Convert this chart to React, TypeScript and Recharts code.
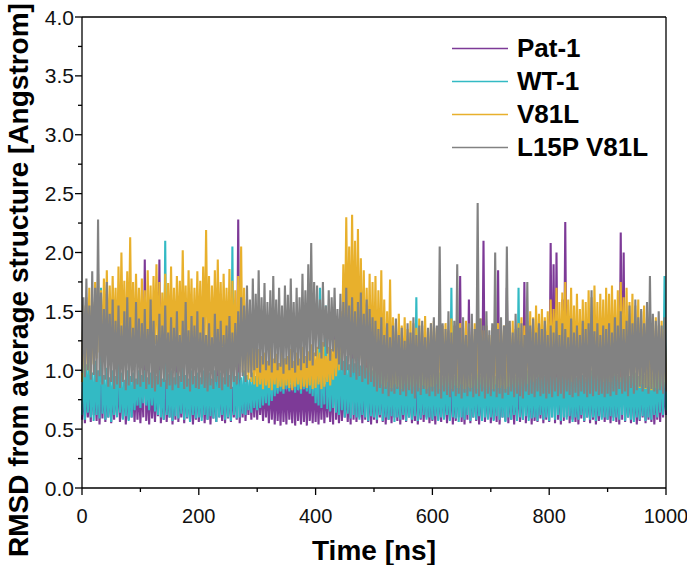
import { LineChart, Line, XAxis, YAxis, Legend, ReferenceLine } from "recharts";

// RMSD read every 5 ns: trough values at t = 0,5,...,1000 and peak values at t = 2.5,7.5,...,997.5
const STEP = 5;

const patLo = [
  0.58, 0.55, 0.6, 0.56, 0.62, 0.57, 0.54, 0.59, 0.56, 0.6, 0.55, 0.58, 0.62, 0.56, 0.59, 0.54, 0.58, 0.6, 0.56, 0.58,
  0.55, 0.6, 0.57, 0.54, 0.59, 0.56, 0.61, 0.55, 0.58, 0.56, 0.6, 0.54, 0.58, 0.56, 0.6, 0.55, 0.59, 0.57, 0.54, 0.58,
  0.56, 0.6, 0.55, 0.58, 0.54, 0.59, 0.56, 0.6, 0.57, 0.55, 0.59, 0.56, 0.6, 0.58, 0.55, 0.6, 0.57, 0.62, 0.58, 0.6,
  0.58, 0.62, 0.57, 0.6, 0.55, 0.58, 0.54, 0.57, 0.53, 0.56, 0.54, 0.58, 0.55, 0.53, 0.57, 0.54, 0.56, 0.53, 0.57, 0.55,
  0.56, 0.54, 0.58, 0.55, 0.6, 0.56, 0.54, 0.58, 0.55, 0.57, 0.6, 0.56, 0.54, 0.58, 0.56, 0.6, 0.55, 0.58, 0.56, 0.54,
  0.58, 0.55, 0.6, 0.56, 0.54, 0.58, 0.55, 0.6, 0.57, 0.54, 0.58, 0.56, 0.6, 0.55, 0.57, 0.54, 0.58, 0.56, 0.6, 0.55,
  0.57, 0.54, 0.58, 0.56, 0.6, 0.55, 0.58, 0.54, 0.57, 0.6, 0.56, 0.54, 0.58, 0.55, 0.6, 0.57, 0.54, 0.58, 0.56, 0.6,
  0.55, 0.58, 0.56, 0.54, 0.6, 0.57, 0.55, 0.58, 0.54, 0.6, 0.56, 0.58, 0.55, 0.6, 0.54, 0.57, 0.56, 0.59, 0.55, 0.58,
  0.56, 0.6, 0.55, 0.58, 0.54, 0.57, 0.6, 0.55, 0.58, 0.56, 0.54, 0.59, 0.56, 0.6, 0.55, 0.58, 0.54, 0.57, 0.6, 0.56,
  0.58, 0.55, 0.6, 0.56, 0.54, 0.58, 0.56, 0.6, 0.55, 0.58, 0.54, 0.57, 0.6, 0.55, 0.58, 0.56, 0.54, 0.58, 0.56, 0.6,
  0.62,
];
const patHi = [
  0.88, 0.92, 0.86, 0.9, 0.84, 0.93, 0.88, 0.9, 0.85, 0.92, 0.87, 0.9, 0.94, 0.86, 0.9, 0.88, 0.92, 0.86, 0.9, 0.88,
  0.9, 1.94, 0.88, 0.92, 0.86, 0.9, 1.94, 0.88, 0.92, 0.86, 0.9, 0.88, 1.6, 0.86, 0.9, 0.92, 0.87, 0.9, 0.85, 0.9,
  0.88, 0.92, 0.86, 0.9, 0.88, 0.85, 1.7, 0.9, 0.87, 0.92, 0.88, 0.86, 0.9, 2.28, 0.88, 0.92, 0.86, 0.9, 0.88, 0.92,
  0.9, 0.86, 0.92, 0.88, 0.95, 0.9, 0.93, 0.88, 0.96, 0.9, 0.94, 0.88, 0.95, 0.92, 0.9, 0.96, 0.92, 0.94, 0.9, 0.95,
  0.92, 0.9, 0.95, 0.88, 0.92, 0.9, 1.5, 0.88, 0.92, 0.86, 0.9, 0.88, 1.8, 0.9, 0.86, 0.92, 0.88, 1.55, 0.9, 0.88,
  0.9, 0.86, 0.92, 0.88, 0.85, 0.9, 0.87, 0.92, 0.86, 0.9, 0.88, 0.85, 0.9, 0.87, 0.92, 0.86, 0.9, 0.88, 0.85, 0.9,
  0.88, 0.92, 0.86, 0.9, 0.88, 0.85, 0.9, 0.88, 0.92, 1.8, 0.87, 0.9, 1.6, 0.88, 0.92, 0.86, 0.9, 2.1, 0.88, 0.9,
  0.86, 0.9, 1.85, 0.88, 0.92, 1.7, 0.87, 0.9, 0.86, 0.92, 0.88, 1.75, 0.9, 0.86, 0.92, 0.88, 0.9, 0.85, 0.9, 0.88,
  2.08, 1.9, 2.0, 0.9, 1.6, 2.26, 1.3, 0.88, 0.92, 0.86, 0.9, 0.88, 0.92, 0.86, 0.9, 0.88, 0.85, 0.9, 0.88, 0.92,
  0.88, 0.9, 0.86, 0.92, 2.17, 2.0, 0.9, 0.88, 0.92, 0.86, 0.9, 0.88, 0.85, 0.9, 0.88, 0.92, 0.86, 0.9, 0.88, 0.9,
];

const wtLo = [
  0.62, 0.58, 0.64, 0.6, 0.57, 0.62, 0.59, 0.63, 0.58, 0.6, 0.56, 0.62, 0.6, 0.64, 0.58, 0.61, 0.57, 0.6, 0.66, 0.7,
  0.68, 0.72, 0.7, 0.66, 0.7, 0.65, 0.62, 0.6, 0.58, 0.62, 0.6, 0.57, 0.61, 0.59, 0.63, 0.58, 0.6, 0.56, 0.62, 0.59,
  0.6, 0.57, 0.62, 0.58, 0.61, 0.59, 0.56, 0.6, 0.62, 0.58, 0.6, 0.57, 0.62, 0.59, 0.6, 0.63, 0.62, 0.66, 0.64, 0.68,
  0.66, 0.68, 0.7, 0.72, 0.7, 0.74, 0.78, 0.8, 0.82, 0.8, 0.84, 0.82, 0.85, 0.81, 0.83, 0.8, 0.84, 0.82, 0.8, 0.78,
  0.72, 0.7, 0.68, 0.71, 0.67, 0.65, 0.68, 0.64, 0.62, 0.66, 0.6, 0.63, 0.59, 0.62, 0.6, 0.58, 0.62, 0.6, 0.57, 0.61,
  0.6, 0.58, 0.62, 0.57, 0.6, 0.58, 0.61, 0.56, 0.6, 0.58, 0.62, 0.57, 0.6, 0.58, 0.61, 0.57, 0.59, 0.62, 0.58, 0.6,
  0.58, 0.61, 0.57, 0.6, 0.58, 0.62, 0.57, 0.6, 0.59, 0.56, 0.6, 0.58, 0.62, 0.57, 0.6, 0.58, 0.61, 0.57, 0.6, 0.58,
  0.6, 0.57, 0.61, 0.58, 0.6, 0.56, 0.6, 0.58, 0.62, 0.57, 0.6, 0.58, 0.61, 0.57, 0.59, 0.6, 0.57, 0.62, 0.58, 0.6,
  0.57, 0.6, 0.58, 0.62, 0.57, 0.6, 0.58, 0.61, 0.56, 0.6, 0.58, 0.62, 0.57, 0.6, 0.58, 0.6, 0.57, 0.61, 0.58, 0.6,
  0.58, 0.61, 0.57, 0.6, 0.58, 0.62, 0.57, 0.6, 0.58, 0.56, 0.6, 0.58, 0.61, 0.57, 0.6, 0.58, 0.62, 0.6, 0.64, 0.62,
  0.66,
];
const wtHi = [
  1.1, 1.05, 1.12, 0.98, 1.08, 1.0, 1.7, 0.96, 1.02, 0.94, 1.0, 0.95, 1.45, 0.98, 0.92, 1.0, 0.95, 0.98, 0.93, 1.0,
  0.96, 1.0, 0.94, 0.98, 1.02, 0.95, 1.0, 0.93, 2.1, 0.97, 1.0, 0.94, 0.98, 0.95, 1.02, 0.96, 0.93, 1.0, 0.95, 0.98,
  0.94, 1.0, 0.96, 0.98, 0.93, 1.0, 0.95, 0.98, 0.94, 1.02, 0.96, 2.05, 0.95, 0.98, 0.94, 1.0, 0.96, 0.93, 0.98, 0.95,
  1.0, 1.04, 0.98, 1.06, 1.02, 1.08, 1.0, 1.05, 1.03, 1.1, 1.02, 1.06, 1.0, 1.08, 1.04, 1.1, 1.05, 1.12, 1.06, 1.1,
  1.05, 1.7, 1.1, 1.55, 1.08, 1.12, 1.05, 1.1, 1.15, 1.08, 1.12, 1.05, 1.1, 1.06, 1.12, 1.04, 1.08, 1.02, 1.06, 1.0,
  1.02, 0.98, 1.04, 0.97, 1.0, 0.95, 1.02, 0.98, 0.94, 1.0, 0.96, 1.02, 0.95, 0.98, 1.62, 0.96, 1.0, 0.94, 0.98, 0.95,
  1.0, 0.96, 0.98, 0.94, 1.02, 0.97, 1.7, 0.95, 1.0, 0.96, 0.98, 0.93, 1.0, 0.95, 0.98, 1.02, 0.96, 0.94, 1.0, 0.97,
  0.98, 0.95, 1.0, 0.96, 0.94, 1.02, 0.97, 1.0, 0.95, 1.7, 0.98, 0.94, 1.0, 0.96, 0.98, 0.93, 1.0, 0.97, 0.95, 1.0,
  0.96, 0.98, 0.94, 1.0, 0.97, 0.95, 1.02, 0.96, 0.98, 0.94, 1.0, 0.96, 0.93, 0.98, 1.0, 0.95, 0.97, 0.94, 1.0, 0.96,
  0.98, 0.95, 1.0, 0.96, 0.94, 1.0, 0.97, 0.95, 1.02, 0.98, 0.95, 1.0, 0.96, 0.98, 1.02, 0.97, 1.0, 1.04, 1.1, 1.8,
];

const v81Lo = [
  0.9, 0.95, 1.0, 0.96, 1.05, 1.1, 1.15, 1.08, 1.2, 1.12, 1.18, 1.22, 1.1, 1.16, 1.2, 1.12, 1.18, 1.1, 1.15, 1.2,
  1.14, 1.2, 1.1, 1.18, 1.12, 1.22, 1.15, 1.1, 1.2, 1.14, 1.18, 1.1, 1.16, 1.22, 1.12, 1.18, 1.14, 1.2, 1.1, 1.16,
  1.18, 1.12, 1.2, 1.15, 1.1, 1.18, 1.12, 1.16, 1.08, 1.14, 1.1, 1.05, 1.12, 1.0, 1.06, 0.98, 0.95, 0.92, 0.9, 0.88,
  0.86, 0.88, 0.84, 0.87, 0.85, 0.83, 0.88, 0.85, 0.86, 0.84, 0.87, 0.85, 0.83, 0.86, 0.88, 0.84, 0.86, 0.85, 0.87, 0.84,
  0.85, 0.88, 0.84, 0.86, 0.9, 0.87, 0.92, 0.95, 1.0, 1.1, 1.2, 1.25, 1.18, 1.22, 1.15, 1.1, 1.05, 1.0, 0.98, 0.95,
  0.94, 0.9, 0.92, 0.88, 0.86, 0.9, 0.85, 0.88, 0.86, 0.84, 0.88, 0.85, 0.87, 0.84, 0.86, 0.88, 0.85, 0.87, 0.84, 0.86,
  0.86, 0.88, 0.84, 0.87, 0.85, 0.88, 0.86, 0.84, 0.87, 0.85, 0.88, 0.84, 0.86, 0.85, 0.87, 0.84, 0.88, 0.85, 0.86, 0.84,
  0.86, 0.84, 0.88, 0.85, 0.87, 0.84, 0.86, 0.88, 0.85, 0.87, 0.88, 0.86, 0.9, 0.88, 0.92, 0.9, 0.94, 0.92, 0.95, 0.93,
  0.95, 0.92, 0.96, 0.9, 0.94, 0.97, 0.92, 0.95, 0.9, 0.94, 0.92, 0.96, 0.9, 0.93, 0.95, 0.91, 0.94, 0.92, 0.96, 0.9,
  0.93, 0.9, 0.95, 0.92, 0.9, 0.94, 0.91, 0.88, 0.92, 0.89, 0.87, 0.85, 0.88, 0.84, 0.86, 0.83, 0.85, 0.84, 0.86, 0.85,
  0.88,
];
const v81Hi = [
  1.55, 1.62, 1.7, 1.58, 1.75, 1.82, 1.68, 1.78, 1.85, 1.72, 1.8, 1.7, 1.88, 2.0, 1.76, 1.84, 2.13, 1.75, 1.82, 1.7,
  1.78, 1.68, 1.85, 1.72, 1.8, 1.9, 1.75, 1.66, 1.82, 1.74, 1.88, 1.7, 1.8, 1.76, 2.02, 1.72, 1.85, 1.78, 1.7, 1.84,
  1.76, 1.88, 2.19, 1.8, 1.72, 1.85, 1.94, 1.75, 1.82, 1.7, 1.86, 1.76, 1.68, 1.8, 2.05, 1.7, 1.6, 1.52, 1.45, 1.35,
  1.18, 1.12, 1.15, 1.08, 1.2, 1.1, 1.14, 1.06, 1.16, 1.1, 1.12, 1.18, 1.08, 1.15, 1.1, 1.2, 1.12, 1.16, 1.22, 1.15,
  1.2, 1.15, 1.24, 1.12, 1.2, 1.18, 1.26, 1.3, 1.5, 1.9, 2.3, 2.05, 2.32, 2.1, 2.2, 1.95, 1.85, 1.7, 1.82, 1.75,
  1.8, 1.68, 1.85, 1.6, 1.5, 1.77, 1.45, 1.4, 1.48, 1.38, 1.45, 1.35, 1.42, 1.4, 1.36, 1.44, 1.38, 1.46, 1.35, 1.4,
  1.42, 1.36, 1.45, 1.38, 1.4, 1.34, 1.44, 1.38, 1.32, 1.4, 1.36, 1.42, 1.35, 1.3, 1.4, 1.36, 1.44, 1.34, 1.38, 1.3,
  1.36, 1.3, 1.4, 1.34, 1.38, 1.32, 1.36, 1.42, 1.35, 1.4, 1.45, 1.38, 1.42, 1.5, 1.45, 1.55, 1.48, 1.52, 1.45, 1.5,
  1.6, 1.52, 1.7, 1.58, 1.66, 1.75, 1.6, 1.7, 1.55, 1.65, 1.52, 1.6, 1.58, 1.68, 1.62, 1.72, 1.58, 1.65, 1.6, 1.7,
  1.65, 1.72, 1.6, 1.68, 1.75, 1.62, 1.7, 1.58, 1.65, 1.55, 1.6, 1.5, 1.55, 1.45, 1.5, 1.4, 1.45, 1.38, 1.42, 1.35,
];

const l15Lo = [
  0.98, 0.94, 1.0, 0.92, 0.96, 0.9, 0.95, 0.88, 0.92, 0.86, 0.9, 0.84, 0.88, 0.85, 0.9, 0.83, 0.87, 0.9, 0.84, 0.88,
  0.86, 0.9, 0.84, 0.88, 0.85, 0.82, 0.88, 0.86, 0.9, 0.84, 0.87, 0.83, 0.88, 0.85, 0.9, 0.84, 0.86, 0.82, 0.88, 0.85,
  0.84, 0.88, 0.85, 0.82, 0.87, 0.84, 0.9, 0.85, 0.83, 0.88, 0.86, 0.84, 0.9, 0.88, 0.92, 0.95, 0.9, 0.98, 0.94, 1.0,
  1.02, 0.98, 1.05, 1.0, 1.04, 0.98, 1.06, 1.0, 1.03, 0.97, 1.05, 1.0, 1.02, 0.98, 1.04, 1.0, 1.06, 1.02, 1.08, 1.04,
  1.12, 1.18, 1.1, 1.2, 1.14, 1.08, 1.16, 1.1, 1.05, 1.0, 0.96, 1.0, 0.94, 0.98, 0.92, 0.95, 0.9, 0.93, 0.88, 0.9,
  0.86, 0.82, 0.85, 0.8, 0.84, 0.78, 0.82, 0.8, 0.84, 0.79, 0.82, 0.78, 0.83, 0.8, 0.76, 0.82, 0.79, 0.84, 0.8, 0.78,
  0.82, 0.78, 0.8, 0.76, 0.82, 0.79, 0.77, 0.82, 0.78, 0.8, 0.76, 0.81, 0.78, 0.82, 0.77, 0.8, 0.78, 0.82, 0.76, 0.8,
  0.78, 0.82, 0.77, 0.8, 0.76, 0.81, 0.79, 0.82, 0.77, 0.8, 0.78, 0.76, 0.82, 0.79, 0.8, 0.77, 0.82, 0.78, 0.8, 0.76,
  0.8, 0.77, 0.82, 0.78, 0.8, 0.76, 0.82, 0.79, 0.77, 0.81, 0.78, 0.82, 0.8, 0.77, 0.8, 0.78, 0.82, 0.79, 0.8, 0.77,
  0.8, 0.78, 0.82, 0.79, 0.84, 0.8, 0.82, 0.78, 0.85, 0.8, 0.83, 0.86, 0.82, 0.85, 0.8, 0.84, 0.82, 0.8, 0.83, 0.8,
  0.82,
];
const l15Hi = [
  1.62, 1.78, 1.55, 1.84, 1.7, 2.28, 1.66, 1.52, 1.75, 1.48, 1.6, 1.42, 1.55, 1.38, 1.5, 1.62, 1.45, 1.36, 1.58, 1.44,
  1.4, 1.52, 1.35, 1.6, 1.42, 1.3, 1.48, 1.38, 1.55, 1.32, 1.45, 1.36, 1.5, 1.3, 1.42, 1.58, 1.34, 1.46, 1.38, 1.5,
  1.32, 1.45, 1.3, 1.4, 1.28, 1.48, 1.35, 1.42, 1.3, 1.38, 1.46, 1.32, 1.4, 1.5, 1.62, 1.55, 1.72, 1.6, 1.78, 1.65,
  1.85, 1.62, 1.74, 1.58, 1.68, 1.8, 1.6, 1.7, 1.55, 1.72, 1.64, 1.78, 1.58, 1.7, 1.62, 1.82, 1.68, 1.9, 2.08, 1.75,
  1.72, 1.6, 1.75, 1.55, 1.68, 1.62, 1.7, 1.52, 1.65, 1.58, 1.7, 1.55, 1.62, 1.5, 1.58, 1.66, 1.48, 1.6, 1.52, 1.45,
  1.42, 1.35, 1.45, 1.3, 1.4, 1.28, 1.38, 1.44, 1.3, 1.36, 1.25, 1.4, 1.32, 1.45, 1.3, 1.38, 1.42, 1.28, 1.36, 1.4,
  1.45, 1.38, 2.05, 1.4, 1.35, 1.5, 1.32, 1.42, 1.9, 1.36, 1.45, 1.3, 1.4, 1.48, 1.35, 2.42, 1.44, 1.38, 1.5, 1.34,
  1.4, 2.0, 1.35, 1.45, 1.38, 2.05, 1.42, 1.32, 1.48, 1.36, 1.4, 1.3, 1.75, 1.38, 1.44, 1.32, 1.4, 1.35, 1.42, 1.3,
  1.38, 1.32, 1.42, 1.3, 1.4, 1.35, 1.28, 1.44, 1.32, 1.38, 1.3, 1.42, 1.35, 1.4, 1.68, 1.33, 1.4, 1.3, 1.38, 1.35,
  1.4, 1.32, 1.45, 1.38, 1.5, 1.35, 1.42, 1.55, 1.4, 1.6, 1.45, 1.52, 1.4, 1.58, 1.8, 1.48, 1.42, 1.5, 1.38, 1.45,
];

const X_MAJOR = [0, 200, 400, 600, 800, 1000];
const X_TICKS = [0, 100, 200, 300, 400, 500, 600, 700, 800, 900, 1000];
const Y_TICKS = [0, 0.25, 0.5, 0.75, 1, 1.25, 1.5, 1.75, 2, 2.25, 2.5, 2.75, 3, 3.25, 3.5, 3.75, 4];

const series = [
  { key: "pat", name: "Pat-1", color: "#7d3a97" },
  { key: "wt", name: "WT-1", color: "#33bac4" },
  { key: "v81", name: "V81L", color: "#e8b02c" },
  { key: "l15", name: "L15P V81L", color: "#828282" },
];

const data: Record<string, number>[] = [];
for (let i = 0; i < l15Lo.length; i++) {
  data.push({ t: i * STEP, pat: patLo[i], wt: wtLo[i], v81: v81Lo[i], l15: l15Lo[i] });
  if (i < l15Hi.length) {
    data.push({ t: i * STEP + STEP / 2, pat: patHi[i], wt: wtHi[i], v81: v81Hi[i], l15: l15Hi[i] });
  }
}

const FONT = "'Liberation Sans', Arial, sans-serif";

const XTick = (props: any) => {
  const { x, y, payload } = props;
  const major = X_MAJOR.includes(payload.value);
  return (
    <g>
      <line x1={x} x2={x} y1={y} y2={y + (major ? 7 : 4)} stroke="#000" strokeWidth={1.3} />
      {major && (
        <text x={x} y={y + 35} textAnchor="middle" fontSize={20} fontFamily={FONT} fill="#111">
          {payload.value}
        </text>
      )}
    </g>
  );
};

const YTick = (props: any) => {
  const { x, y, payload } = props;
  const major = Math.round(payload.value * 100) % 50 === 0;
  return (
    <g>
      <line x1={x} x2={x - (major ? 7 : 4)} y1={y} y2={y} stroke="#000" strokeWidth={1.3} />
      {major && (
        <text x={x - 8} y={y + 7.5} textAnchor="end" fontSize={21} fontFamily={FONT} fill="#111">
          {payload.value.toFixed(1)}
        </text>
      )}
    </g>
  );
};

const renderLegend = () => (
  <div style={{ fontFamily: FONT, fontWeight: "bold", fontSize: 26 }}>
    {series.map((s) => (
      <div key={s.key} style={{ display: "flex", alignItems: "center", height: 33 }}>
        <svg width={65} height={33} style={{ display: "block" }}>
          <line x1={0} x2={56} y1={16.5} y2={16.5} stroke={s.color} strokeWidth={1.6} />
        </svg>
        <span style={{ color: "#000", lineHeight: "33px" }}>{s.name}</span>
      </div>
    ))}
  </div>
);

export default function App() {
  return (
    <div style={{ position: "absolute", left: 0, top: 0, background: "#fff" }}>
      <LineChart width={687} height={565} data={data} margin={{ top: 17, right: 21, left: 0, bottom: 0 }}>
        <XAxis
          dataKey="t"
          type="number"
          domain={[0, 1000]}
          ticks={X_TICKS}
          interval={0}
          tick={<XTick />}
          tickLine={false}
          tickSize={0}
          tickMargin={0}
          height={77}
          axisLine={{ stroke: "#000", strokeWidth: 1.3 }}
          label={{
            content: (p: any) => (
              <text
                x={p.viewBox.x + p.viewBox.width / 2}
                y={p.viewBox.y + 72}
                textAnchor="middle"
                fontSize={28}
                fontWeight="bold"
                fontFamily={FONT}
                fill="#000"
              >
                Time [ns]
              </text>
            ),
          }}
        />
        <YAxis
          type="number"
          domain={[0, 4]}
          ticks={Y_TICKS}
          interval={0}
          tick={<YTick />}
          tickLine={false}
          tickSize={0}
          tickMargin={0}
          width={82}
          axisLine={{ stroke: "#000", strokeWidth: 1.3 }}
          label={{
            content: (p: any) => {
              const cx = p.viewBox.x + 18;
              const cy = p.viewBox.y + p.viewBox.height - 208;
              return (
                <text
                  x={cx}
                  y={cy}
                  transform={`rotate(-90 ${cx} ${cy})`}
                  textAnchor="middle"
                  dominantBaseline="central"
                  fontSize={28}
                  fontWeight="bold"
                  fontFamily={FONT}
                  fill="#000"
                >
                  RMSD from average structure [Angstrom]
                </text>
              );
            },
          }}
        />
        {series.map((s) => (
          <Line
            key={s.key}
            dataKey={s.key}
            name={s.name}
            type="linear"
            stroke={s.color}
            strokeWidth={2.1}
            strokeLinejoin="bevel"
            dot={false}
            activeDot={false}
            isAnimationActive={false}
          />
        ))}
        <ReferenceLine y={4} stroke="#000" strokeWidth={1.3} />
        <ReferenceLine x={1000} stroke="#000" strokeWidth={1.3} />
        <Legend
          layout="vertical"
          align="center"
          verticalAlign="middle"
          content={renderLegend}
          wrapperStyle={{ top: 32, left: 452, width: 230 }}
        />
      </LineChart>
    </div>
  );
}
